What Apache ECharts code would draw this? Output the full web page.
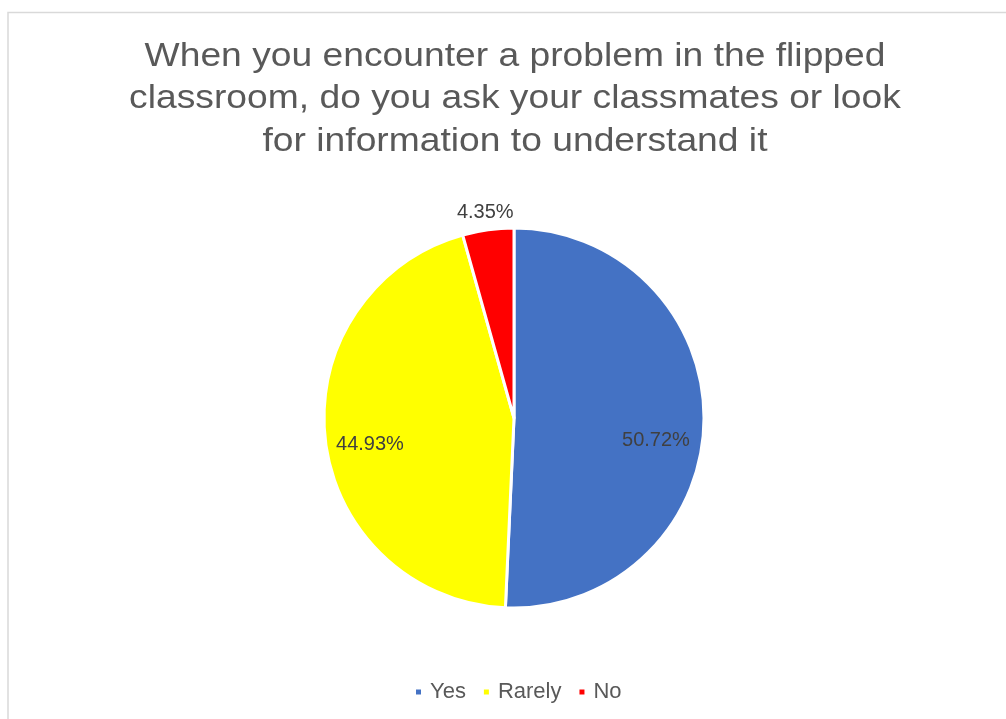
<!DOCTYPE html>
<html>
<head>
<meta charset="utf-8">
<script src="https://cdn.jsdelivr.net/npm/echarts@6/dist/echarts.min.js"></script>
<style>
html,body{margin:0;padding:0;background:#fff;}
#chart{width:1006px;height:719px;}
</style>
</head>
<body>
<div id="chart"></div>
<script>
const titleText = "When you encounter a problem in the flipped\nclassroom, do you ask your classmates or look\nfor information to understand it";
const categories = ["Yes", "Rarely", "No"];
const values = [50.72, 44.93, 4.35];
const colors = ["#4472C4", "#FFFF00", "#FF0000"];

const chart = echarts.init(document.getElementById('chart'));
const fontFam = "'Liberation Sans', Arial, sans-serif";

// label nudges (style only): horizontal padding and line height used to drop the text
const labelPad = { Yes: [0, 12, 0, 0], Rarely: [0, 0, 0, 6], No: [0, 0, 0, 0] };
const labelLH = { Yes: 38, Rarely: 19, No: 8 };

const baseData = categories.map((c, i) => ({ name: c, value: values[i], itemStyle: { color: colors[i] } }));
const innerLabelData = categories.map((c, i) => ({
  name: c, value: values[i],
  label: { show: i < 2, padding: labelPad[c], lineHeight: labelLH[c] }
}));
const outerLabelData = categories.map((c, i) => ({
  name: c, value: values[i],
  label: { show: i === 2, padding: labelPad[c], lineHeight: labelLH[c] }
}));

const labelStyle = {
  position: 'inside',
  formatter: p => '\n' + p.value.toFixed(2) + '%',
  fontFamily: fontFam,
  fontSize: 20,
  color: '#404040'
};

chart.setOption({
  backgroundColor: '#ffffff',
  animation: false,
  legend: {
    left: 409,
    top: 676,
    icon: 'rect',
    itemWidth: 7,
    itemHeight: 7,
    itemGap: 16,
    textStyle: { fontFamily: fontFam, fontSize: 22, color: '#595959', padding: [0, 0, 0, 3] },
    data: categories.map((c, i) => ({ name: c, itemStyle: { color: colors[i] } }))
  },
  graphic: [{
    type: 'rect',
    x: 8, y: 12.5,
    shape: { x: 0, y: 0, width: 1200, height: 900 },
    style: { fill: 'none', stroke: '#d9d9d9', lineWidth: 1.5 },
    z: -10, silent: true
  }, {
    type: 'text',
    x: 515, y: 35,
    scaleX: 1.095,
    style: {
      text: titleText,
      fontFamily: fontFam,
      fontSize: 34,
      lineHeight: 42.5,
      fill: '#595959',
      textAlign: 'center',
      textVerticalAlign: 'top'
    },
    silent: true
  }],
  series: [
    {
      type: 'pie',
      center: [514, 418],
      radius: [0, 190],
      startAngle: 90,
      clockwise: true,
      label: { show: false },
      labelLine: { show: false },
      itemStyle: { borderColor: '#ffffff', borderWidth: 3 },
      emphasis: { disabled: true },
      data: baseData
    },
    {
      type: 'pie',
      center: [514, 418],
      radius: [100, 190],
      startAngle: 90,
      silent: true,
      legendHoverLink: false,
      itemStyle: { color: 'rgba(0,0,0,0)' },
      label: labelStyle,
      labelLine: { show: false },
      emphasis: { disabled: true },
      data: innerLabelData
    },
    {
      type: 'pie',
      center: [514, 418],
      radius: [200, 216],
      startAngle: 90,
      silent: true,
      legendHoverLink: false,
      itemStyle: { color: 'rgba(0,0,0,0)' },
      label: labelStyle,
      labelLine: { show: false },
      emphasis: { disabled: true },
      data: outerLabelData
    }
  ]
});
</script>
</body>
</html>
